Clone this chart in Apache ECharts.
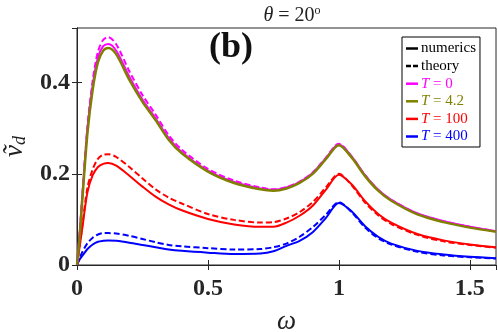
<!DOCTYPE html>
<html><head><meta charset="utf-8">
<script src="https://cdn.jsdelivr.net/npm/echarts@6/dist/echarts.min.js"></script>
<style>html,body{margin:0;padding:0;background:#fff}#c{width:498px;height:332px}</style>
</head><body><div id="c"></div>
<script>
const omega = [0,0.01,0.02,0.04,0.06,0.08,0.1,0.12,0.15,0.2,0.25,0.3,0.35,0.4,0.5,0.6,0.7,0.75,0.8,0.85,0.9,0.95,1.0,1.05,1.1,1.15,1.2,1.3,1.4,1.5,1.6];
const T0_num   = [0,0.07,0.15,0.30,0.395,0.455,0.48,0.485,0.47,0.413,0.363,0.322,0.279,0.248,0.207,0.182,0.168,0.165,0.170,0.182,0.202,0.234,0.265,0.237,0.197,0.165,0.143,0.113,0.096,0.084,0.074];
const T0_th    = [0,0.07,0.15,0.305,0.405,0.468,0.494,0.50,0.484,0.425,0.373,0.33,0.285,0.253,0.211,0.185,0.170,0.166,0.171,0.183,0.203,0.235,0.266,0.237,0.197,0.165,0.143,0.113,0.096,0.084,0.074];
const T42_num  = [0,0.06,0.14,0.29,0.385,0.445,0.47,0.476,0.462,0.406,0.358,0.318,0.275,0.245,0.205,0.180,0.166,0.163,0.168,0.180,0.200,0.232,0.263,0.235,0.195,0.163,0.141,0.111,0.094,0.082,0.073];
const T100_num = [0,0.04,0.08,0.16,0.197,0.215,0.222,0.224,0.218,0.196,0.172,0.150,0.133,0.120,0.101,0.089,0.084,0.084,0.093,0.108,0.130,0.165,0.198,0.176,0.140,0.112,0.093,0.068,0.054,0.045,0.039];
const T100_th  = [0,0.04,0.085,0.17,0.21,0.233,0.242,0.243,0.237,0.215,0.190,0.166,0.148,0.135,0.112,0.099,0.093,0.094,0.102,0.116,0.138,0.170,0.200,0.174,0.137,0.109,0.090,0.066,0.052,0.044,0.038];
const T400_num = [0,0.012,0.02,0.035,0.045,0.051,0.053,0.054,0.053,0.049,0.044,0.039,0.034,0.031,0.027,0.024,0.025,0.030,0.042,0.053,0.072,0.103,0.136,0.117,0.085,0.062,0.047,0.031,0.023,0.018,0.015];
const T400_th  = [0,0.015,0.028,0.048,0.060,0.067,0.070,0.070,0.069,0.064,0.057,0.050,0.044,0.041,0.037,0.034,0.035,0.039,0.047,0.062,0.083,0.110,0.138,0.115,0.082,0.059,0.045,0.029,0.021,0.017,0.014];
const xTicks = [0,0.5,1,1.5];
const yTicks = [0,0.2,0.4];

const MAG='#ff00ff', OLV='#808000', RED='#ff0000', BLU='#0000ff';
const SERIF='"Liberation Serif","Times New Roman",serif';
const pair = ys => omega.map((x,i)=>[x,ys[i]]);

function line(name, ys, color, dashed, w){
  return {name:name,type:'line',data:pair(ys),symbol:'none',smooth:0.3,
    lineStyle:{color:color,width:w||2,type:dashed?[6,3]:'solid'},itemStyle:{color:color}};
}
const chart = echarts.init(document.getElementById('c'));
const SOLID_ICON='path://M0,0L12,0L12,2.5L0,2.5Z';
const DASH_ICON='path://M0,0L5,0L5,2.5L0,2.5Z M7,0L12,0L12,2.5L7,2.5Z';
const legendNames = ['numerics','theory','T = 0','T = 4.2','T = 100','T = 400'];
const richKey = {'T = 0':'m','T = 4.2':'o','T = 100':'r','T = 400':'b'};
chart.setOption({
  animation:false,
  title:{text:'{i|θ} = 20{s|o}',left:287,top:0,textAlign:'center',
    textStyle:{fontFamily:SERIF,fontSize:20,fontWeight:'normal',color:'#222',
      rich:{i:{fontFamily:SERIF,fontStyle:'italic',fontSize:20,color:'#222'},
            s:{fontFamily:SERIF,fontSize:12,color:'#222',verticalAlign:'top',padding:[0,0,10,0]}}}},
  graphic:[{type:'text',left:209,top:30,style:{text:'(b)',font:'bold 36px '+SERIF,fill:'#111'}}],
  grid:{left:77,top:28,width:419,height:237,show:true,borderColor:'#262626',borderWidth:1,backgroundColor:'transparent',outerBoundsMode:'none',containLabel:false},
  legend:{orient:'vertical',left:402,top:37,padding:[4,4,3,4],itemGap:2.6,itemWidth:12,itemHeight:2.5,
    borderColor:'#000',borderWidth:1,backgroundColor:'#fff',
    data:legendNames.map(n=>({name:n,icon:n==='theory'?DASH_ICON:SOLID_ICON})),
    formatter:function(n){ const k=richKey[n]; if(!k) return n; return '{'+k+'i|T}{'+k+'|'+n.slice(1)+'}'; },
    textStyle:{fontFamily:SERIF,fontSize:15,color:'#000',padding:[0,0,0,-2],lineHeight:15,
      rich:{m:{color:MAG,fontFamily:SERIF,fontSize:15},mi:{color:MAG,fontFamily:SERIF,fontSize:15,fontStyle:'italic'},
            o:{color:OLV,fontFamily:SERIF,fontSize:15},oi:{color:OLV,fontFamily:SERIF,fontSize:15,fontStyle:'italic'},
            r:{color:RED,fontFamily:SERIF,fontSize:15},ri:{color:RED,fontFamily:SERIF,fontSize:15,fontStyle:'italic'},
            b:{color:BLU,fontFamily:SERIF,fontSize:15},bi:{color:BLU,fontFamily:SERIF,fontSize:15,fontStyle:'italic'}}}},
  xAxis:[{type:'value',min:0,max:1.6,interval:0.5,
    name:'ω',nameLocation:'middle',nameGap:43,nameTextStyle:{fontFamily:SERIF,fontStyle:'italic',fontSize:27,color:'#222'},
    axisLine:{show:true,lineStyle:{color:'#262626'}},axisTick:{inside:true,length:5,lineStyle:{color:'#262626'}},
    axisLabel:{showMaxLabel:false,margin:12,fontFamily:SERIF,fontWeight:'bold',fontSize:24,color:'#262626',
      formatter:v=>xTicks.indexOf(v)>=0?String(v):''},
    splitLine:{show:false}},
   {type:'value',position:'top',min:0,max:1.6,interval:0.5,axisLine:{show:true,lineStyle:{color:'#262626'}},
    axisTick:{inside:true,length:5,lineStyle:{color:'#262626'}},axisLabel:{show:false},splitLine:{show:false}}],
  yAxis:[{type:'value',min:0,max:0.52,interval:0.2,
    name:'{i|ṽ}{d|d}',nameLocation:'middle',nameGap:43,nameRotate:90,
    nameTextStyle:{rich:{i:{fontFamily:SERIF,fontStyle:'italic',fontSize:27,color:'#222'},
                         d:{fontFamily:SERIF,fontStyle:'italic',fontSize:18,color:'#222',verticalAlign:'bottom',padding:[10,0,0,0]}}},
    axisLine:{show:true,lineStyle:{color:'#262626'}},axisTick:{inside:true,length:5,lineStyle:{color:'#262626'}},
    axisLabel:{showMaxLabel:false,margin:7,fontFamily:SERIF,fontWeight:'bold',fontSize:24,color:'#262626',
      formatter:v=>yTicks.some(t=>Math.abs(t-v)<1e-9)?String(v):''},
    splitLine:{show:false}},
   {type:'value',position:'right',min:0,max:0.52,interval:0.2,axisLine:{show:true,lineStyle:{color:'#262626'}},
    axisTick:{inside:true,length:5,lineStyle:{color:'#262626'}},axisLabel:{show:false},splitLine:{show:false}}],
  series:[
    {name:'numerics',type:'line',data:[],symbol:'none',lineStyle:{color:'#000',width:2.5},itemStyle:{color:'#000'}},
    {name:'theory',type:'line',data:[],symbol:'none',lineStyle:{color:'#000',width:2.5,type:[5,2]},itemStyle:{color:'#000'}},
    line('T = 400',T400_th,BLU,true),
    line('T = 400',T400_num,BLU,false),
    line('T = 100',T100_th,RED,true),
    line('T = 100',T100_num,RED,false),
    line('T = 0',T0_th,MAG,true),
    line('T = 0',T0_num,MAG,false),
    line('T = 4.2',T42_num,OLV,false,2.5)
  ]
});
</script></body></html>
